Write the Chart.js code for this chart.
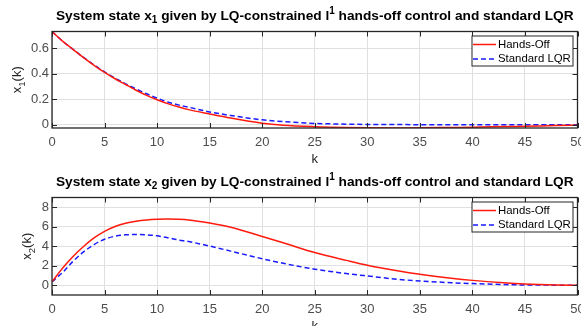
<!DOCTYPE html>
<html>
<head>
<meta charset="utf-8">
<script src="https://cdn.jsdelivr.net/npm/chart.js@4.4.1/dist/chart.umd.min.js"></script>
<style>
html, body { margin: 0; padding: 0; background: #fff; }
#wrap { position: relative; width: 581px; height: 326px; overflow: hidden; }
.panel { position: absolute; left: 0; width: 581px; height: 163px; }
</style>
</head>
<body>
<div id="wrap">
    <div class="panel" style="top:0"><canvas id="c1" width="581" height="163"></canvas></div>
    <div class="panel" style="top:163px"><canvas id="c2" width="581" height="163"></canvas></div>
</div>
<script>
/* -------------------- DADOS -------------------- */
const k = [0, 1, 2, 3, 4, 5, 6, 7, 8, 9, 10, 11, 12, 13, 15, 17, 20, 22, 25, 28, 30, 33, 35, 38, 40, 43, 45, 48, 50];

const x1HandsOff = [0.73, 0.655, 0.59, 0.525, 0.465, 0.41, 0.36, 0.315, 0.27, 0.23, 0.195, 0.165, 0.14, 0.118, 0.084,
    0.052, 0.012, -0.004, -0.016, -0.023, -0.025, -0.026, -0.025, -0.022, -0.02, -0.015, -0.012, -0.007, -0.004];
const x1LQR = [0.73, 0.655, 0.59, 0.527, 0.468, 0.413, 0.365, 0.32, 0.28, 0.242, 0.208, 0.178, 0.155, 0.137, 0.1,
    0.072, 0.038, 0.024, 0.01, 0.004, 0.002, 0.001, 0, 0, 0, 0, 0, 0, 0];

const x2HandsOff = [0.35, 1.75, 2.95, 3.98, 4.85, 5.52, 6.02, 6.36, 6.57, 6.7, 6.77, 6.8, 6.77, 6.7, 6.38,
    5.95, 5.0, 4.35, 3.35, 2.55, 2.05, 1.45, 1.12, 0.72, 0.5, 0.25, 0.13, 0.03, 0];
const x2LQR = [0.35, 1.3, 2.45, 3.42, 4.17, 4.72, 5.03, 5.17, 5.2, 5.17, 5.07, 4.88, 4.65, 4.48, 4.02,
    3.5, 2.72, 2.25, 1.65, 1.2, 0.95, 0.6, 0.44, 0.26, 0.17, 0.07, 0.03, 0.01, 0];

const xTicks = [0, 5, 10, 15, 20, 25, 30, 35, 40, 45, 50];
const y1Ticks = [0, 0.2, 0.4, 0.6];
const y2Ticks = [0, 2, 4, 6, 8];
const labels = ["Hands-Off", "Standard LQR"];

/* -------------------- ESTILO -------------------- */
const FONT = '"Liberation Sans", Arial, Helvetica, sans-serif';
const AXIS = '#262626';
const TICKTXT = '#4d4d4d';
const GRID = '#e0e0e0';

// bordas, ticks internos, legenda, titulo e rotulos (estilo MATLAB)
const matlabDecor = {
    id: 'matlabDecor',
    afterDatasetsDraw(chart, args, o) {
        const ctx = chart.ctx, a = chart.chartArea;
        const xs = chart.scales.x, ys = chart.scales.y;
        ctx.save();

        // ticks para dentro
        ctx.strokeStyle = AXIS;
        ctx.lineWidth = 1;
        ctx.beginPath();
        xs.ticks.forEach(t => {
            const px = Math.round(xs.getPixelForValue(t.value)) + 0.5;
            ctx.moveTo(px, a.bottom); ctx.lineTo(px, a.bottom - 5);
            ctx.moveTo(px, a.top); ctx.lineTo(px, a.top + 5);
        });
        ys.ticks.forEach(t => {
            const py = Math.round(ys.getPixelForValue(t.value)) + 0.5;
            ctx.moveTo(a.left, py); ctx.lineTo(a.left + 5, py);
            ctx.moveTo(a.right, py); ctx.lineTo(a.right - 5, py);
        });
        ctx.stroke();

        ctx.lineWidth = 1.3;
        ctx.strokeRect(a.left, a.top, a.right - a.left, a.bottom - a.top);

        // legenda
        const bw = 101, bh = 30;
        const bx = a.right - 4.5 - bw, by = a.top + 4.5;
        ctx.fillStyle = '#fff';
        ctx.fillRect(bx, by, bw, bh);
        ctx.lineWidth = 1;
        ctx.strokeStyle = AXIS;
        ctx.strokeRect(bx, by, bw, bh);
        ctx.font = '11.4px ' + FONT;
        ctx.textBaseline = 'middle';
        ctx.textAlign = 'left';
        chart.data.datasets.forEach((ds, i) => {
            const yy = by + 8.5 + i * 14.5;
            ctx.beginPath();
            ctx.strokeStyle = ds.borderColor;
            ctx.lineWidth = ds.borderWidth;
            ctx.setLineDash(ds.borderDash || []);
            ctx.moveTo(bx + 1, yy);
            ctx.lineTo(bx + 24, yy);
            ctx.stroke();
            ctx.setLineDash([]);
            ctx.fillStyle = '#000';
            ctx.fillText(ds.label, bx + 26, yy);
        });

        // titulo com sub/sobrescrito
        const parts = o.title;
        const big = 'bold 13.7px ' + FONT, small = 'bold 10px ' + FONT;
        let w = 0;
        parts.forEach(p => { ctx.font = p.s ? small : big; w += ctx.measureText(p.t).width; });
        let x = (a.left + a.right) / 2 - w / 2;
        const base = a.top - 11.5;
        ctx.fillStyle = '#000';
        ctx.textBaseline = 'alphabetic';
        parts.forEach(p => {
            ctx.font = p.s ? small : big;
            const dy = p.s === 'sub' ? 3 : (p.s === 'sup' ? -6 : 0);
            ctx.fillText(p.t, x, base + dy);
            x += ctx.measureText(p.t).width;
        });

        // rotulo eixo x
        ctx.font = '13px ' + FONT;
        ctx.fillStyle = AXIS;
        ctx.textAlign = 'center';
        ctx.textBaseline = 'middle';
        ctx.fillText('k', (a.left + a.right) / 2, a.bottom + 31);

        // rotulo eixo y (rotacionado)
        ctx.translate(o.ylabX, (a.top + a.bottom) / 2);
        ctx.rotate(-Math.PI / 2);
        ctx.textAlign = 'left';
        ctx.textBaseline = 'alphabetic';
        const yp = [{ t: 'x' }, { t: o.ysub, s: 'sub' }, { t: '(k)' }];
        let yw = 0;
        yp.forEach(p => { ctx.font = (p.s ? '9.5px ' : '13px ') + FONT; yw += ctx.measureText(p.t).width; });
        let xx = -yw / 2;
        yp.forEach(p => {
            ctx.font = (p.s ? '9.5px ' : '13px ') + FONT;
            ctx.fillText(p.t, xx, p.s ? 3.5 : 0);
            xx += ctx.measureText(p.t).width;
        });
        ctx.restore();
    }
};

function montarGrafico(id, serieA, serieB, yMin, yMax, yTicks, sub, padTop, xH, ylabX) {
    const ctx = document.getElementById(id);
    new Chart(ctx, {
        type: 'line',
        data: {
            datasets: [
                {
                    label: labels[0],
                    data: k.map((v, i) => ({ x: v, y: serieA[i] })),
                    borderColor: '#ff1a0d', borderWidth: 1.5, pointRadius: 0,
                    cubicInterpolationMode: 'monotone', fill: false
                },
                {
                    label: labels[1],
                    data: k.map((v, i) => ({ x: v, y: serieB[i] })),
                    borderColor: '#1a1aff', borderWidth: 1.5, borderDash: [5, 3], pointRadius: 0,
                    cubicInterpolationMode: 'monotone', fill: false
                }
            ]
        },
        options: {
            responsive: false,
            devicePixelRatio: 1,
            animation: false,
            layout: { padding: { top: padTop, right: 3.5, left: 0, bottom: 0 } },
            plugins: {
                legend: { display: false },
                tooltip: { enabled: false },
                matlabDecor: {
                    title: [
                        { t: 'System state x' }, { t: sub, s: 'sub' },
                        { t: ' given by LQ-constrained l' }, { t: '1', s: 'sup' },
                        { t: ' hands-off control and standard LQR' }
                    ],
                    ysub: sub,
                    ylabX: ylabX
                }
            },
            scales: {
                x: {
                    type: 'linear', min: 0, max: 50,
                    afterBuildTicks: s => { s.ticks = xTicks.map(v => ({ value: v })); },
                    afterFit: s => { s.height = xH; s.paddingLeft = 0; s.paddingRight = 0; },
                    grid: { color: GRID, drawTicks: false },
                    border: { display: false },
                    ticks: { padding: 7, color: TICKTXT, font: { family: FONT, size: 13 }, maxRotation: 0, autoSkip: false }
                },
                y: {
                    type: 'linear', min: yMin, max: yMax,
                    afterBuildTicks: s => { s.ticks = yTicks.map(v => ({ value: v })); },
                    afterFit: s => { s.width = 52; s.paddingTop = 0; s.paddingBottom = 0; },
                    grid: { color: GRID, drawTicks: false },
                    border: { display: false },
                    ticks: { padding: 3, color: TICKTXT, font: { family: FONT, size: 13 }, callback: v => String(v) }
                }
            }
        },
        plugins: [matlabDecor]
    });
}

montarGrafico('c1', x1HandsOff, x1LQR, -0.026, 0.73, y1Ticks, '1', 31.5, 35, 21);
montarGrafico('c2', x2HandsOff, x2LQR, -1, 9, y2Ticks, '2', 34.5, 31, 31);
</script>
</body>
</html>
